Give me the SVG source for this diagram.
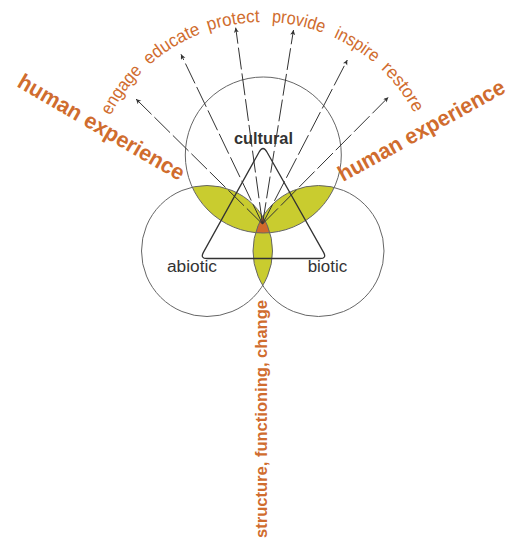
<svg xmlns="http://www.w3.org/2000/svg" width="519" height="543" viewBox="0 0 519 543">
<style>
.circ{fill:none;stroke:#666;stroke-width:1}
.green{fill:#c9cc2f}
.orng{fill:#d2692b}
.tri{fill:none;stroke:#333;stroke-width:1.3;stroke-linejoin:round}
.arr{fill:none;stroke:#333;stroke-width:1;stroke-dasharray:22 4;marker-end:url(#ah)}
.word{font-family:"Liberation Sans",Arial,sans-serif;font-size:18px;fill:#d06c2e}
.hx{font-family:"Liberation Sans",Arial,sans-serif;font-size:22px;font-weight:bold;fill:#d06c2e}
.lab{font-family:"Liberation Sans",Arial,sans-serif;font-size:16px;fill:#333}
.labb{font-family:"Liberation Sans",Arial,sans-serif;font-size:16px;font-weight:bold;fill:#333}
.sfc{font-family:"Liberation Sans",Arial,sans-serif;font-size:17px;font-weight:bold;fill:#d06c2e}
</style>
<defs>
<clipPath id="cT"><circle cx="263.3" cy="155" r="78"/></clipPath>
<clipPath id="cL"><circle cx="207" cy="251" r="65.5"/></clipPath>
<marker id="ah" markerUnits="userSpaceOnUse" markerWidth="8" markerHeight="8" refX="5" refY="2.5" orient="auto">
<path d="M0,0 L5,2.5 L0,5 L1.3,2.5 Z" fill="#333"/>
</marker>
<path id="arc" d="M94.6,222.7 A171,171 0 1 1 431.4,222.7"/>
</defs>
<g id="lenses">
<circle class="green" cx="207" cy="251" r="65.5" clip-path="url(#cT)"/>
<circle class="green" cx="318.5" cy="251" r="65.5" clip-path="url(#cT)"/>
<circle class="green" cx="318.5" cy="251" r="65.5" clip-path="url(#cL)"/>
<g clip-path="url(#cT)"><circle class="orng" cx="318.5" cy="251" r="65.5" clip-path="url(#cL)"/></g>
</g>
<g id="circle-cultural"><circle class="circ" cx="263.3" cy="155" r="78"/></g>
<g id="circle-abiotic"><circle class="circ" cx="207" cy="251" r="65.5"/></g>
<g id="circle-biotic"><circle class="circ" cx="318.5" cy="251" r="65.5"/></g>
<g id="triangle"><path class="tri" d="M259.12,152 L203.4,252.38 Q200,258.5 207,258.5 L320,258.5 Q327,258.5 323.56,252.4 L266.93,151.97 Q263,145 259.12,152 Z"/></g>
<g id="connectors">
<line class="arr" x1="262.5" y1="224" x2="136" y2="99"/>
<line class="arr" x1="262.5" y1="224" x2="181" y2="54.3"/>
<line class="arr" x1="262.5" y1="224" x2="235.7" y2="27.7"/>
<line class="arr" x1="262.5" y1="224" x2="293.5" y2="30"/>
<line class="arr" x1="262.5" y1="224" x2="347.3" y2="60"/>
<line class="arr" x1="262.5" y1="224" x2="388.3" y2="97.3"/>
</g>
<g id="words">
<text class="word"><textPath href="#arc" startOffset="110" textLength="55" lengthAdjust="spacingAndGlyphs">engage</textPath></text>
<text class="word"><textPath href="#arc" startOffset="174" textLength="61" lengthAdjust="spacingAndGlyphs">educate</textPath></text>
<text class="word"><textPath href="#arc" startOffset="243" textLength="52" lengthAdjust="spacingAndGlyphs">protect</textPath></text>
<text class="word"><textPath href="#arc" startOffset="307" textLength="53" lengthAdjust="spacingAndGlyphs">provide</textPath></text>
<text class="word"><textPath href="#arc" startOffset="371" textLength="48" lengthAdjust="spacingAndGlyphs">inspire</textPath></text>
<text class="word"><textPath href="#arc" startOffset="428" textLength="56" lengthAdjust="spacingAndGlyphs">restore</textPath></text>
</g>
<g id="label-human-left"><text class="hx" transform="translate(16,86) rotate(30.2)" textLength="189" lengthAdjust="spacingAndGlyphs">human experience</text></g>
<g id="label-human-right"><text class="hx" transform="translate(343,182) rotate(-28.8)" textLength="187" lengthAdjust="spacingAndGlyphs">human experience</text></g>
<g id="label-cultural"><text class="labb" x="234" y="144" textLength="59" lengthAdjust="spacingAndGlyphs">cultural</text></g>
<g id="label-abiotic"><text class="lab" x="167" y="271.7" textLength="50" lengthAdjust="spacingAndGlyphs">abiotic</text></g>
<g id="label-biotic"><text class="lab" x="307.7" y="271.7" textLength="39.5" lengthAdjust="spacingAndGlyphs">biotic</text></g>
<g id="label-sfc"><text class="sfc" transform="translate(266.5,538) rotate(-90)" textLength="238" lengthAdjust="spacingAndGlyphs">structure, functioning, change</text></g>
</svg>
